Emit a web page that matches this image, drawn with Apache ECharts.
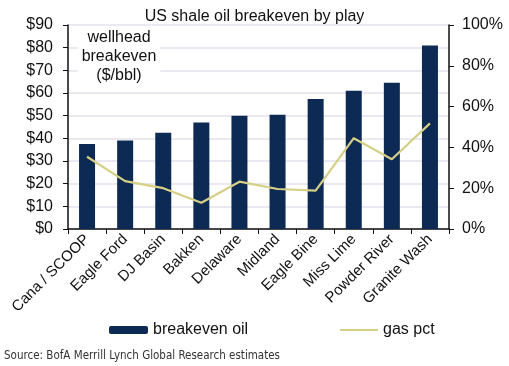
<!DOCTYPE html>
<html><head><meta charset="utf-8">
<script src="https://cdn.jsdelivr.net/npm/echarts@6/dist/echarts.min.js"></script>
<style>html,body{margin:0;padding:0;background:#fff}#c{width:509px;height:366px}</style>
</head><body><div id="c"></div>
<script>
const categories = ["Cana / SCOOP","Eagle Ford","DJ Basin","Bakken","Delaware","Midland","Eagle Bine","Miss Lime","Powder River","Granite Wash"];
const breakevenOil = [37.5, 39, 42.5, 47, 50, 50.4, 57.3, 61, 64.5, 81];
const gasPct = [35.4, 23.5, 20, 12.9, 23.2, 19.6, 18.8, 44.5, 34.2, 51.8];
const leftTicks = [0, 90, 10];
const rightTicks = [0, 100, 20];

const font = 'Liberation Sans, Arial, sans-serif';
const chart = echarts.init(document.getElementById('c'), null, {renderer:'canvas'});
chart.setOption({
  animation:false,
  textStyle:{fontFamily:font},
  title:{text:'US shale oil breakeven by play', left:'center', top:4,
    textStyle:{fontFamily:font, fontSize:16, fontWeight:'normal', color:'#111'}},
  grid:{left:68, right:60, top:25, bottom:137},
  legend:[
    {data:['breakeven oil'], left:104, top:317, itemWidth:39, itemHeight:8, itemGap:5,
     textStyle:{fontFamily:font, fontSize:16, color:'#111'}},
    {data:[{name:'gas pct', icon:'rect'}], left:335, top:317, itemWidth:38, itemHeight:2, itemGap:5,
     textStyle:{fontFamily:font, fontSize:16, color:'#111'}}
  ],
  xAxis:{type:'category', data:categories,
    axisLine:{lineStyle:{color:'#111', width:1.5}},
    axisTick:{show:true, alignWithLabel:false, length:5, lineStyle:{color:'#111'}},
    axisLabel:{rotate:45, fontSize:15, color:'#111', margin:8, interval:0},
    splitLine:{show:false}},
  yAxis:[
    {type:'value', min:leftTicks[0], max:leftTicks[1], interval:leftTicks[2], position:'left',
     axisLine:{show:true, lineStyle:{color:'#111', width:1.5}},
     axisTick:{show:true, inside:false, length:5, lineStyle:{color:'#111'}},
     axisLabel:{formatter:v=>'$'+v, fontSize:16, color:'#111', margin:15},
     splitLine:{show:true, lineStyle:{color:'#e4e0ee', width:1.5}}},
    {type:'value', min:rightTicks[0], max:rightTicks[1], interval:rightTicks[2], position:'right',
     axisLine:{show:true, lineStyle:{color:'#111', width:1.5}},
     axisTick:{show:true, length:5, lineStyle:{color:'#111'}},
     axisLabel:{formatter:v=>v+'%', fontSize:16, color:'#111', margin:13},
     splitLine:{show:false}}
  ],
  series:[
    {name:'breakeven oil', type:'bar', data:breakevenOil, barWidth:'42%', yAxisIndex:0,
     itemStyle:{color:'#0d2a54'}},
    {name:'gas pct', type:'line', data:gasPct, yAxisIndex:1, symbol:'none',
     lineStyle:{color:'#d6cf86', width:2.2}, itemStyle:{color:'#d6cf86'}}
  ],
  graphic:[
    {type:'text', x:119, y:26, z:10, style:{text:'wellhead\nbreakeven\n($/bbl)', align:'center',
      font:'16px '+font, fill:'#111', lineHeight:19, backgroundColor:'#fff', padding:[2,4,2,4]}},
    {type:'text', x:4, y:350, style:{text:'Source: BofA Merrill Lynch Global Research estimates',
      font:'11.5px "Liberation Sans Narrow", "DejaVu Sans Condensed", sans-serif', fill:'#333'}}
  ]
});
</script></body></html>
